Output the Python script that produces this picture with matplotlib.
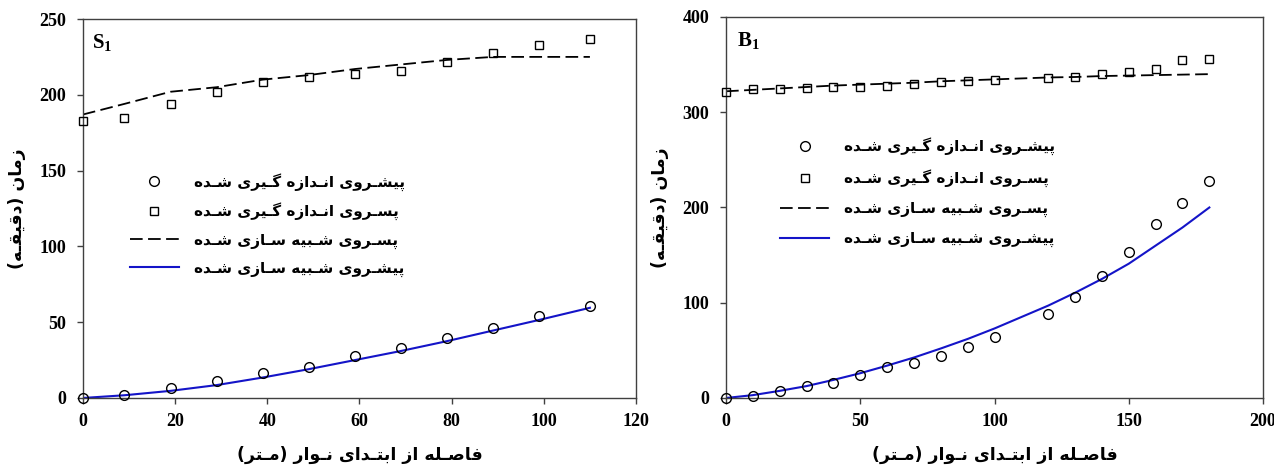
import matplotlib
matplotlib.use("Agg")
import matplotlib.pyplot as plt
from matplotlib.lines import Line2D


# S1 furrow
s1_x = [0, 9, 19, 29, 39, 49, 59, 69, 79, 89, 99, 110]
s1_adv_meas = [0, 2.2, 6.4, 11.3, 16.3, 20.7, 27.4, 33.1, 39.3, 45.9, 53.8, 60.9]
s1_rec_meas = [182.7, 184.7, 193.7, 201.9, 208.7, 211.8, 213.8, 215.6, 221.8, 227.7, 233.0, 237.0]
s1_adv_sim = [0, 1.8, 4.7, 8.5, 13.5, 19, 25, 31, 37.5, 44.5, 51.5, 59.5]
s1_rec_sim = [187, 194, 202, 205, 210, 213, 217, 220, 223, 225, 225, 225]

# B1 furrow
b1_x = [0, 10, 20, 30, 40, 50, 60, 70, 80, 90, 100, 120, 130, 140, 150, 160, 170, 180]
b1_adv_meas = [0, 2.4, 7.0, 12.2, 16.1, 24.5, 32.5, 36.3, 44.4, 53.1, 63.9, 88.0, 105.5,
               127.9, 153.4, 183.1, 204.4, 228.1]
b1_rec_meas = [321.4, 324.2, 324.9, 325.9, 326.3, 327.0, 328.0, 329.4, 331.5, 332.6, 334.3,
               336.4, 337.5, 340.3, 342.4, 345.1, 354.6, 355.6]
b1_adv_sim = [0, 3, 7.5, 12.5, 19, 26, 34, 42.5, 52, 62, 73, 97, 110.5, 125, 141, 160, 179, 200]
b1_rec_sim = [322, 323.5, 325, 326.5, 328, 329, 330, 331, 332.5, 333.5, 334.5, 336.5, 337,
              338, 338.5, 339, 339.5, 340]

LBL_ADV_MEAS = "پیشـروی انـدازه گـیری شـده"
LBL_REC_MEAS = "پسـروی انـدازه گـیری شـده"
LBL_REC_SIM = "پسـروی شـبیه سـازی شـده"
LBL_ADV_SIM = "پیشـروی شـبیه سـازی شـده"
XLABEL = "فاصـله از ابتـدای نـوار (مـتر)"
YLABEL = "زمان (دقیقـه)"

BLUE = "#1414C8"

plt.rcParams["mathtext.fontset"] = "custom"
plt.rcParams["mathtext.rm"] = "Liberation Serif:bold"
plt.rcParams["mathtext.bf"] = "Liberation Serif:bold"

# presentation forms: isolated, final, initial, medial (None = right-joining only)
FORMS = {
    "ا": (0xFE8D, 0xFE8E, None, None),
    "ب": (0xFE8F, 0xFE90, 0xFE91, 0xFE92),
    "ت": (0xFE95, 0xFE96, 0xFE97, 0xFE98),
    "د": (0xFEA9, 0xFEAA, None, None),
    "ر": (0xFEAD, 0xFEAE, None, None),
    "ز": (0xFEAF, 0xFEB0, None, None),
    "س": (0xFEB1, 0xFEB2, 0xFEB3, 0xFEB4),
    "ش": (0xFEB5, 0xFEB6, 0xFEB7, 0xFEB8),
    "ص": (0xFEB9, 0xFEBA, 0xFEBB, 0xFEBC),
    "ف": (0xFED1, 0xFED2, 0xFED3, 0xFED4),
    "ق": (0xFED5, 0xFED6, 0xFED7, 0xFED8),
    "ل": (0xFEDD, 0xFEDE, 0xFEDF, 0xFEE0),
    "م": (0xFEE1, 0xFEE2, 0xFEE3, 0xFEE4),
    "ن": (0xFEE5, 0xFEE6, 0xFEE7, 0xFEE8),
    "ه": (0xFEE9, 0xFEEA, 0xFEEB, 0xFEEC),
    "و": (0xFEED, 0xFEEE, None, None),
    "پ": (0xFB56, 0xFB57, 0xFB58, 0xFB59),
    "گ": (0xFB92, 0xFB93, 0xFB94, 0xFB95),
    "ی": (0xFBFC, 0xFBFD, 0xFBFE, 0xFBFF),
}
TATWEEL = "ـ"


def joins_forward(ch):
    if ch == TATWEEL:
        return True
    return ch in FORMS and FORMS[ch][2] is not None


def joins_back(ch):
    return ch == TATWEEL or ch in FORMS


def fa(text):
    # crude persian shaping + visual reordering for matplotlib
    out = []
    for i, ch in enumerate(text):
        if ch not in FORMS:
            out.append(ch)
            continue
        prev = text[i - 1] if i > 0 else ""
        nxt = text[i + 1] if i + 1 < len(text) else ""
        left = prev != "" and joins_forward(prev)
        right = joins_forward(ch) and nxt != "" and joins_back(nxt)
        iso, fin, ini, med = FORMS[ch]
        if left and right:
            code = med
        elif left:
            code = fin
        elif right:
            code = ini
        else:
            code = iso
        out.append(chr(code))
    vis = "".join(reversed(out))
    return vis.translate(str.maketrans("()", ")("))


FA_FONT = dict(family="DejaVu Sans", fontweight="bold")


def style_axes(ax, xlim, ylim, xticks, yticks):
    ax.set_xlim(*xlim)
    ax.set_ylim(*ylim)
    ax.set_xticks(xticks)
    ax.set_yticks(yticks)
    for sp in ax.spines.values():
        sp.set_color("#404040")
        sp.set_linewidth(1.0)
    ax.tick_params(direction="out", length=4, width=1, color="#404040")
    ax.tick_params(axis="x", pad=7)
    ax.tick_params(axis="y", pad=8)
    for lab in ax.get_xticklabels() + ax.get_yticklabels():
        lab.set_fontfamily("Liberation Serif")
        lab.set_fontweight("bold")
        lab.set_fontsize(13)
    ax.set_xlabel(fa(XLABEL), fontsize=12.5, labelpad=11, **FA_FONT)
    ax.set_ylabel(fa(YLABEL), fontsize=12.5, labelpad=10, **FA_FONT)


def draw_panel(ax, x, adv_meas, rec_meas, adv_sim, rec_sim):
    ax.plot(x, adv_sim, color=BLUE, lw=1.5, zorder=2)
    ax.plot(x, rec_sim, color="black", lw=1.3, dashes=(7, 3), zorder=2)
    ax.plot(x, adv_meas, ls="none", marker="o", ms=7, mfc="none", mec="black", mew=1.0,
            zorder=3, clip_on=False)
    ax.plot(x, rec_meas, ls="none", marker="s", ms=6, mfc="none", mec="black", mew=1.0,
            zorder=3, clip_on=False)


def add_legend(ax, anchor, spacing):
    handles = [
        Line2D([], [], ls="none", marker="o", ms=7, mfc="none", mec="black", mew=1.0),
        Line2D([], [], ls="none", marker="s", ms=6, mfc="none", mec="black", mew=1.0),
        Line2D([], [], color="black", lw=1.3, dashes=(7, 3)),
        Line2D([], [], color=BLUE, lw=1.5),
    ]
    labels = [fa(LBL_ADV_MEAS), fa(LBL_REC_MEAS), fa(LBL_REC_SIM), fa(LBL_ADV_SIM)]
    ax.legend(handles, labels, loc="upper left", bbox_to_anchor=anchor, frameon=False,
              prop={"family": "DejaVu Sans", "weight": "bold", "size": 11},
              handlelength=3.2, handletextpad=1.0, labelspacing=spacing)


fig = plt.figure(figsize=(12.74, 4.68), dpi=100)

ax1 = fig.add_axes([0.0651, 0.1496, 0.4341, 0.8098])
draw_panel(ax1, s1_x, s1_adv_meas, s1_rec_meas, s1_adv_sim, s1_rec_sim)
style_axes(ax1, (0, 120), (0, 250), range(0, 121, 20), range(0, 251, 50))
ax1.text(0.017, 0.965, r"$\mathbf{S_1}$", transform=ax1.transAxes, va="top", ha="left",
         fontsize=15)
add_legend(ax1, (0.06, 0.63), 0.78)

ax2 = fig.add_axes([0.5699, 0.1496, 0.4215, 0.8141])
draw_panel(ax2, b1_x, b1_adv_meas, b1_rec_meas, b1_adv_sim, b1_rec_sim)
style_axes(ax2, (0, 200), (0, 400), range(0, 201, 50), range(0, 401, 100))
ax2.text(0.02, 0.965, r"$\mathbf{B_1}$", transform=ax2.transAxes, va="top", ha="left",
         fontsize=15)
add_legend(ax2, (0.075, 0.72), 0.92)

fig.savefig("out.png", dpi=100)
